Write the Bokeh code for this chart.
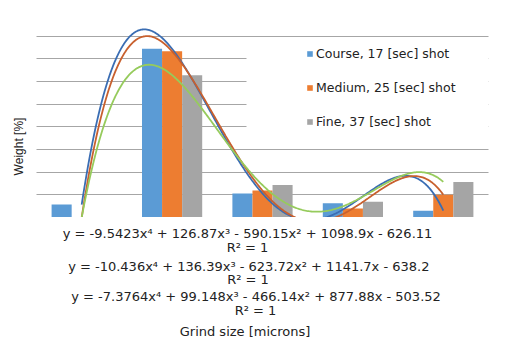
import math
import numpy as np
from bokeh.plotting import figure
from bokeh.layouts import column
from bokeh.models import (Range1d, FixedTicker, Label, Legend, LegendItem,
                          BoxAnnotation, ColumnDataSource)
from bokeh.transform import dodge
from bokeh.embed import file_html
from bokeh.resources import INLINE

# ---- data ----
categories = [1, 2, 3, 4, 5]
course = [5.7, 74.4, 10.6, 6.3, 3.0]
medium = [0.0, 73.3, 11.9, 4.0, 10.0]
fine = [0.0, 62.8, 14.3, 6.9, 15.7]
series_names = ["Course, 17 [sec] shot", "Medium, 25 [sec] shot", "Fine, 37 [sec] shot"]
equations = [
    "y = -9.5423x⁴ + 126.87x³ - 590.15x² + 1098.9x - 626.11",
    "y = -10.436x⁴ + 136.39x³ - 623.72x² + 1141.7x - 638.2",
    "y = -7.3764x⁴ + 99.148x³ - 466.14x² + 877.88x - 503.52",
]
r2_labels = ["R² = 1", "R² = 1", "R² = 1"]
y_ticks = [0, 10, 20, 30, 40, 50, 60, 70, 80, 90]
x_title = "Grind size [microns]"
y_title = "Weight [%]"

bar_colors = ["#5B9BD5", "#ED7D31", "#A5A5A5"]
trend_colors = ["#3A6DB3", "#C8602E", "#96CB5C"]
TEXT = "#222222"
FONT = "DejaVu Sans"

# layout constants (page pixels)
W = 501
F_LEFT, F_TOP, F_W, F_H = 36, 13, 452, 204
BOTTOM_H = 133
X0, X1, Y0, Y1 = 0.5, 5.5, 0.0, 90.0


def dx(px):
    return X0 + (px - F_LEFT) * (X1 - X0) / F_W


def dy(py):
    return Y0 + (F_TOP + F_H - py) * (Y1 - Y0) / F_H


p = figure(width=W, height=F_TOP + F_H, output_backend="svg", toolbar_location=None,
           x_range=Range1d(dx(0), dx(W)), y_range=Range1d(Y0, Y1),
           x_axis_location=None, y_axis_location=None,
           min_border_left=0, min_border_right=0, min_border_top=F_TOP,
           min_border_bottom=0)
p.outline_line_color = None
p.xgrid.visible = False
p.ygrid.ticker = FixedTicker(ticks=y_ticks)
p.ygrid.cross_bounds = (X0, X1)
p.ygrid.grid_line_color = "#A6A6A6"
p.ygrid.grid_line_width = 1

src = ColumnDataSource(dict(x=categories, course=course, medium=medium, fine=fine))
bw = 0.222
renderers = []
for key, off, col in zip(["course", "medium", "fine"], [-bw, 0.0, bw], bar_colors):
    r = p.vbar(x=dodge("x", off, range=p.x_range), top=key, width=bw, source=src,
               fill_color=col, line_color=None)
    renderers.append(r)

# white legend area covering the grid lines
box = BoxAnnotation(left=dx(246), right=X1, bottom=dy(147.5), top=dy(37.5),
                    fill_color="white", fill_alpha=1.0, line_color=None, level="underlay")
p.add_layout(box)

# polynomial (order 4) trendlines
xs = np.linspace(1, 5, 300)
for vals, col in zip([course, medium, fine], trend_colors):
    coef = np.polyfit(categories, vals, 4)
    p.line(xs, np.polyval(coef, xs), line_color=col, line_width=1.8)

legend = Legend(items=[LegendItem(label=n, renderers=[r]) for n, r in zip(series_names, renderers)],
                location=(306, 88), padding=0, margin=0, spacing=19,
                glyph_width=7, glyph_height=7, label_height=14, label_standoff=3,
                background_fill_alpha=0, border_line_color=None,
                label_text_font=FONT, label_text_font_size="12.5px",
                label_text_color=TEXT)
p.add_layout(legend)

p.add_layout(Label(x=dx(18), y=dy(146), text=y_title, angle=math.pi / 2,
                   text_align="center", text_baseline="middle",
                   text_font="Liberation Sans", text_font_size="12px", text_color=TEXT))

# text block below the plot: coordinates are page pixels
top_px = F_TOP + F_H
q = figure(width=W, height=BOTTOM_H, output_backend="svg", toolbar_location=None,
           x_range=Range1d(0, W), y_range=Range1d(top_px + BOTTOM_H, top_px),
           x_axis_location=None, y_axis_location=None,
           min_border=0)
q.outline_line_color = None
q.grid.visible = False


def add_text(txt, px, py, size="13px"):
    q.add_layout(Label(x=px, y=py, text=txt, text_align="center",
                       text_baseline="middle", text_font=FONT,
                       text_font_size=size, text_color=TEXT))


eq_pos = [(247, 232.7), (248.3, 265.7), (255.5, 296.0)]
r2_pos = [(247, 246.7), (247.5, 279.3), (255, 310.0)]
for t, (x, y) in zip(equations, eq_pos):
    add_text(t, x, y)
for t, (x, y) in zip(r2_labels, r2_pos):
    add_text(t, x, y)
add_text(x_title, 244.5, 331)

layout = column(p, q, spacing=0)
open("out.html", "w").write(file_html(layout, INLINE))
